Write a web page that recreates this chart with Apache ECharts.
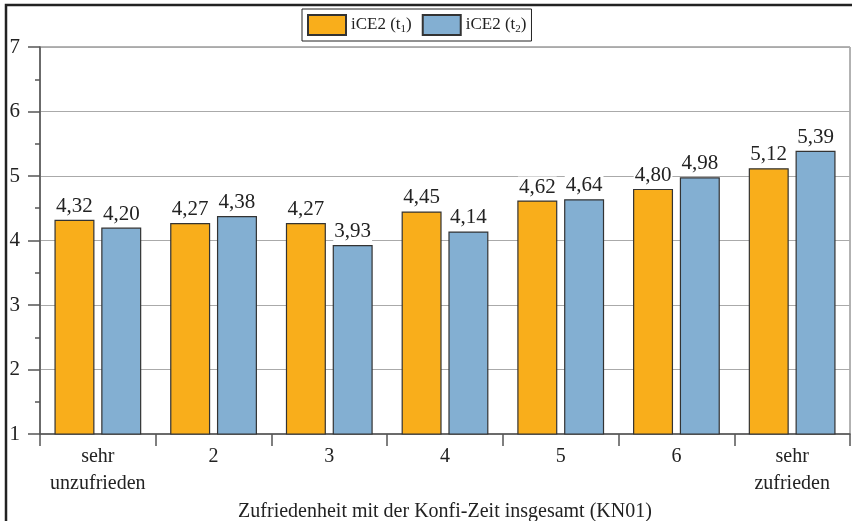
<!DOCTYPE html>
<html><head><meta charset="utf-8">
<script src="https://cdn.jsdelivr.net/npm/echarts@6/dist/echarts.min.js"></script>
<style>html,body{margin:0;padding:0;background:#fff}#c{width:852px;height:521px}</style>
</head><body><div id="c"></div>
<script>
const categories = ['sehr\nunzufrieden', '2', '3', '4', '5', '6', 'sehr\nzufrieden'];
const t1Values = [4.32, 4.27, 4.27, 4.45, 4.62, 4.80, 5.12];
const t2Values = [4.20, 4.38, 3.93, 4.14, 4.64, 4.98, 5.39];
const seriesNames = ['iCE2 (t1)', 'iCE2 (t2)'];
const xAxisTitle = 'Zufriedenheit mit der Konfi-Zeit insgesamt (KN01)';

const FONT = 'Liberation Serif';
const chart = echarts.init(document.getElementById('c'), null, {renderer: 'canvas'});
const fmt = p => p.value.toFixed(2).replace('.', ',');
const labelCfg = {
  show: true, position: 'top', distance: 3, formatter: fmt,
  fontFamily: FONT, fontSize: 21, color: '#222',
  backgroundColor: '#fff', padding: [0, 1]
};
chart.setOption({
  animation: false,
  textStyle: {fontFamily: FONT},
  graphic: [{
    type: 'polyline', silent: true,
    shape: {points: [[6, 521], [6, 5], [852, 5]]},
    style: {stroke: '#222', lineWidth: 2.5, fill: null}
  }],
  legend: {
    left: 302, top: 9,
    itemWidth: 38, itemHeight: 20, itemGap: 10,
    borderColor: '#222', borderWidth: 1, padding: [5, 5],
    icon: 'rect',
    formatter: n => {
      const m = n.match(/^(.*\(t)(\d)(\))$/);
      return '{a|' + m[1] + '}{s|' + m[2] + '}{a|' + m[3] + '}';
    },
    textStyle: {
      rich: {
        a: {fontFamily: FONT, fontSize: 17, color: '#222'},
        s: {fontFamily: FONT, fontSize: 11, color: '#222', verticalAlign: 'bottom', padding: [8, 0, 0, 0]}
      }
    }
  },
  grid: {left: 40, right: 2, top: 47, bottom: 87, outerBoundsMode: 'none', containLabel: false,
         show: true, borderColor: '#666', borderWidth: 1},
  xAxis: {
    type: 'category', data: categories,
    name: xAxisTitle, nameLocation: 'middle', nameGap: 60,
    nameTextStyle: {fontFamily: FONT, fontSize: 20, color: '#222'},
    axisLine: {lineStyle: {color: '#555', width: 1.5}},
    axisTick: {show: true, length: 12, interval: 0, lineStyle: {color: '#555', width: 1.5}},
    axisLabel: {fontFamily: FONT, fontSize: 20, color: '#222', margin: 9, lineHeight: 27, interval: 0}
  },
  yAxis: {
    type: 'value', min: 1, max: 7, interval: 1,
    axisLine: {show: true, lineStyle: {color: '#555', width: 1.5}},
    axisTick: {show: true, length: 12, lineStyle: {color: '#555', width: 1.5}},
    minorTick: {show: true, splitNumber: 2, length: 5, lineStyle: {color: '#555', width: 1.5}},
    splitLine: {show: true, lineStyle: {color: '#aaa', width: 1}},
    axisLabel: {fontFamily: FONT, fontSize: 21, color: '#222', margin: 20}
  },
  series: [
    {name: seriesNames[0], type: 'bar', data: t1Values, barWidth: 40, barGap: '17%',
     itemStyle: {color: '#F9AE1B', borderColor: '#333', borderWidth: 1.2}, label: labelCfg},
    {name: seriesNames[1], type: 'bar', data: t2Values, barWidth: 40,
     itemStyle: {color: '#83AFD2', borderColor: '#333', borderWidth: 1.2}, label: labelCfg}
  ]
});
</script></body></html>
